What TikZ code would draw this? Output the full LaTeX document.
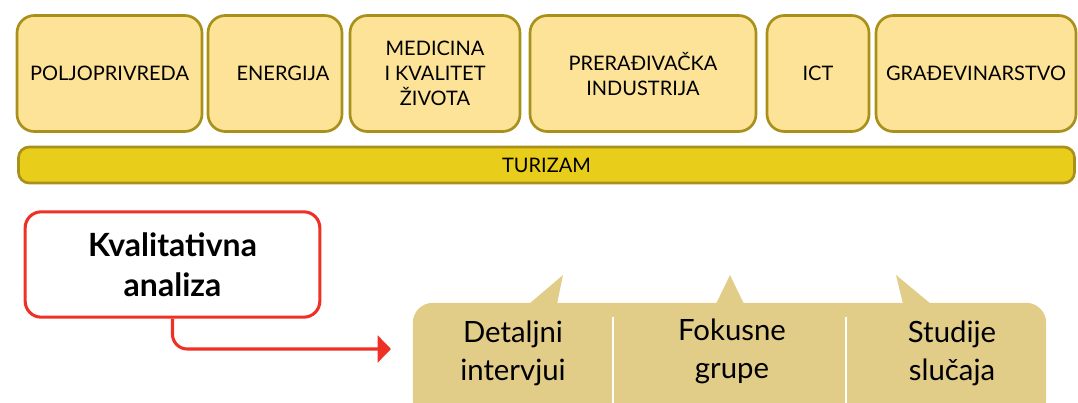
\documentclass[tikz,border=0pt]{standalone}
\usepackage{fontspec}
\setmainfont{Lato}
\usetikzlibrary{arrows.meta, positioning}
\definecolor{sectorfill}{HTML}{FCE397}
\definecolor{sectordraw}{HTML}{A8901A}
\definecolor{tourfill}{HTML}{E8CD1A}
\definecolor{methodfill}{HTML}{E1CC88}
\definecolor{qualred}{HTML}{EE3124}

\begin{document}
\begin{tikzpicture}[
  x=0.75pt, y=-0.75pt,
  sector/.style={draw=sectordraw, line width=2pt, fill=sectorfill, rounded corners=13pt,
    minimum height=87pt, inner sep=0pt, align=center, font=\fontsize{15}{18.75}\selectfont},
  tourism/.style={draw=sectordraw, line width=2pt, fill=tourfill, rounded corners=8pt,
    minimum width=792pt, minimum height=27pt, inner sep=0pt, font=\fontsize{15}{18.75}\selectfont},
  analysis/.style={draw=qualred, line width=2.3pt, fill=white, rounded corners=12pt,
    minimum width=221pt, minimum height=79pt, align=center, font=\fontsize{24}{30}\selectfont\bfseries},
  methods/.style={fill=methodfill, rounded corners=15pt, minimum width=475pt, minimum height=88pt, inner sep=0pt},
  method/.style={align=center, font=\fontsize{22}{28.5}\selectfont},
  divider/.style={draw=white, line width=1.5pt},
  flow/.style={draw=qualred, line width=2.3pt, rounded corners=11pt, -{Triangle[length=10pt, width=20pt]}}
]
\clip (0,0) rectangle (1078,403);

\node[sector, minimum width=138.75pt] (agri) at (109.5,73.5) {POLJOPRIVREDA};
\node[sector, minimum width=100.5pt] (energy) at (275,73.5) {\hspace*{12pt}ENERGIJA};
\node[sector, minimum width=127.5pt] (medicine) at (435,73.5) {MEDICINA\\I KVALITET\\ŽIVOTA};
\node[sector, minimum width=169.5pt] (industry) at (643,73.5) {PRERAĐIVAČKA\\INDUSTRIJA};
\node[sector, minimum width=76.5pt] (ict) at (818,73.5) {ICT};
\node[sector, minimum width=150pt] (building) at (976,73.5) {GRAĐEVINARSTVO};
\node[tourism] (tourism) at (546.5,165) {TURIZAM};

\node[analysis] (quality) at (172.5,264.5) {Kvalitativna\\analiza};

\node[methods] (methods) at (729.5,361.5) {};
\foreach \a/\t/\b in {529/563/557, 716/730/744, 903/896/931}
  \fill[methodfill] (\a,304) -- (\t,275) -- (\b,304) -- cycle;
\draw[divider] (613,317) -- (613,403);
\draw[divider] (846,317) -- (846,403);
\node[method] (interviews) at (513,353) {Detaljni\\intervjui};
\node[method] (focus) at (732,351) {Fokusne\\grupe};
\node[method] (cases) at (952,353) {Studije\\slučaja};

\coordinate (tip) at (391,349);
\draw[flow] (quality.south) |- (tip);
\end{tikzpicture}
\end{document}
